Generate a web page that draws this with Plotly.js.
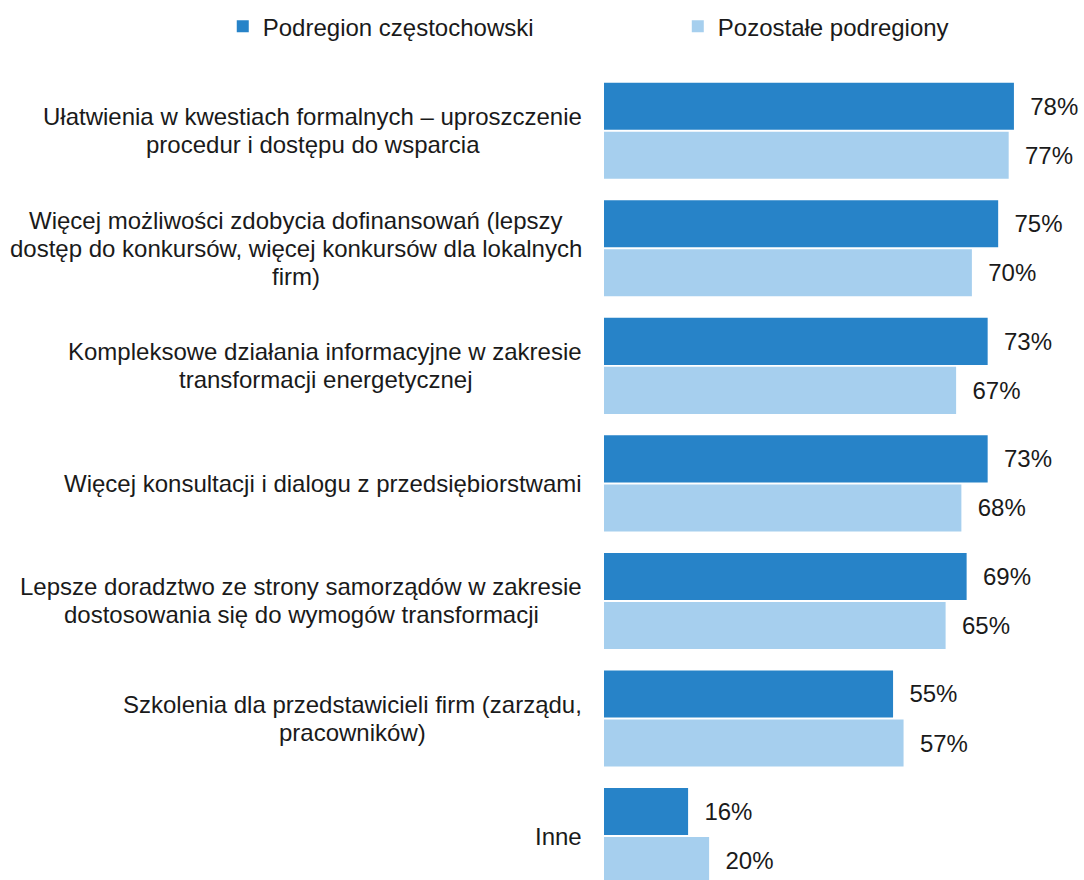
<!DOCTYPE html>
<html>
<head>
<meta charset="utf-8">
<script src="https://cdn.plot.ly/plotly-3.0.1.min.js"></script>
<style>
html,body{margin:0;padding:0;overflow:hidden;background:#fff;}
#chart{width:1084px;height:880px;}
</style>
</head>
<body>
<div id="chart"></div>
<script>
const categories = [
  "Ułatwienia w kwestiach formalnych – uproszczenie<br>procedur i dostępu do wsparcia",
  "Więcej możliwości zdobycia dofinansowań (lepszy<br>dostęp do konkursów, więcej konkursów dla lokalnych<br>firm)",
  "Kompleksowe działania informacyjne w zakresie<br>transformacji energetycznej",
  "Więcej konsultacji i dialogu z przedsiębiorstwami",
  "Lepsze doradztwo ze strony samorządów w zakresie<br>dostosowania się do wymogów transformacji",
  "Szkolenia dla przedstawicieli firm (zarządu,<br>pracowników)",
  "Inne"
];
const seriesNames = ["Podregion częstochowski", "Pozostałe podregiony"];
const czestochowski = [78, 75, 73, 73, 69, 55, 16];
const pozostale = [77, 70, 67, 68, 65, 57, 20];

const FONT = "Liberation Sans, Arial, sans-serif";
const LABEL_SIZE = 24;
const LINE_H = 28;
const colors = ["#2783c8", "#a6cfee"];

function barTrace(name, values, color, legendId) {
  return {
    type: "bar",
    orientation: "h",
    name: name,
    legend: legendId,
    y: categories,
    x: values,
    marker: {color: color},
    texttemplate: "\u00a0\u00a0%{x}%",
    textposition: "outside",
    constraintext: "none",
    cliponaxis: false,
    textfont: {family: FONT, size: 24, color: "#1a1a1a"},
    hoverinfo: "none"
  };
}

const data = [
  barTrace(seriesNames[0], czestochowski, colors[0], "legend"),
  barTrace(seriesNames[1], pozostale, colors[1], "legend2")
];

// category labels: centred multi-line blocks, right edge 22px left of the axis
const ctx = document.createElement("canvas").getContext("2d");
ctx.font = LABEL_SIZE + "px 'Liberation Sans', Arial, sans-serif";
const annotations = [];
categories.forEach(c => {
  const lines = c.split("<br>");
  const W = Math.max(...lines.map(l => ctx.measureText(l).width));
  const n = lines.length;
  lines.forEach((line, i) => {
    annotations.push({
      xref: "x", yref: "y",
      x: 0, y: c,
      xanchor: "center", yanchor: "middle",
      xshift: -(22 + W / 2),
      yshift: ((n - 1) / 2 - i) * LINE_H,
      showarrow: false,
      text: line,
      font: {family: FONT, size: LABEL_SIZE, color: "#1a1a1a"}
    });
  });
});

const legendBase = {
  orientation: "h",
  xanchor: "left",
  y: 1.056, yanchor: "middle",
  font: {family: FONT, size: 24, color: "#1a1a1a"},
  bgcolor: "rgba(0,0,0,0)"
};

const layout = {
  width: 1084, height: 880,
  margin: {l: 604, r: 7, t: 72, b: 0},
  paper_bgcolor: "#ffffff",
  plot_bgcolor: "#ffffff",
  barmode: "group",
  bargap: 0.166,
  bargroupgap: 0.04,
  font: {family: FONT, size: 24, color: "#1a1a1a"},
  showlegend: true,
  legend: Object.assign({}, legendBase, {x: -0.806}),
  legend2: Object.assign({}, legendBase, {x: 0.156}),
  xaxis: {range: [0, 90], visible: false, fixedrange: true},
  yaxis: {
    type: "category",
    range: [6.374, -0.5],
    showticklabels: false, showgrid: false, zeroline: false, showline: false, ticks: "",
    fixedrange: true
  },
  annotations: annotations
};

Plotly.newPlot("chart", data, layout, {displayModeBar: false, staticPlot: true});
</script>
</body>
</html>
